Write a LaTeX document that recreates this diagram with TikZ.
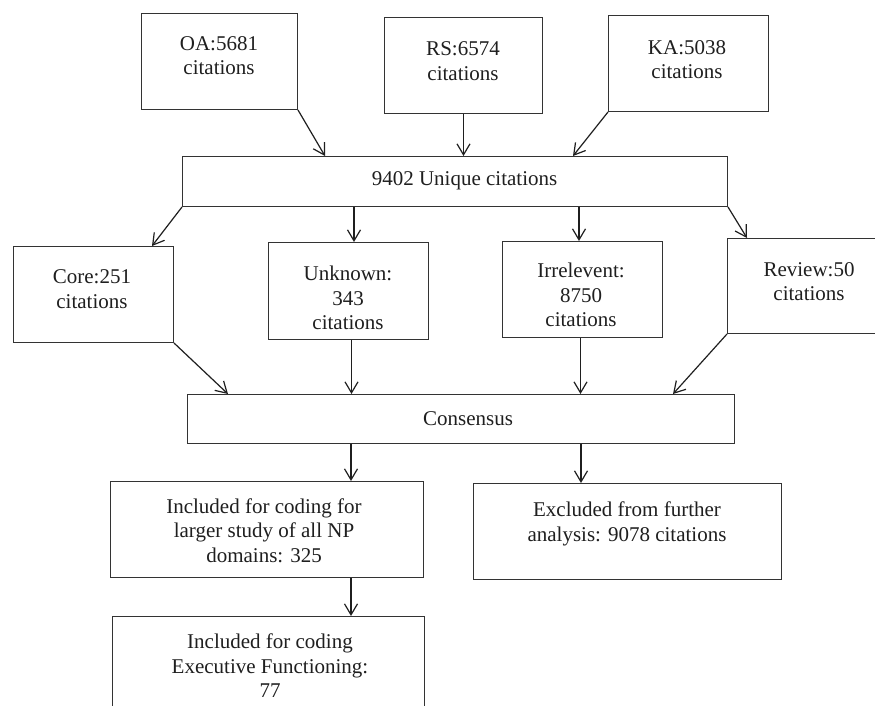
\documentclass[tikz,border=0pt]{standalone}
\usepackage{fontspec}
\setmainfont{Liberation Serif}
\usetikzlibrary{arrows.meta}
\begin{document}
\begin{tikzpicture}[x=1pt,y=-1pt,
  box/.style={draw=black!80, line width=1pt, inner sep=0pt, anchor=north west},
  txt/.style={align=center, inner sep=0pt, text=black!88, font=\fontsize{21}{24.5}\selectfont},
  arr/.style={draw=black!88, line width=1.2pt, -{Straight Barb[length=11pt,width=13pt]}}]
\useasboundingbox (0,0) rectangle (875,706);
\clip (0,0) rectangle (875,706);
\fill[white] (0,0) rectangle (875,706);
% top sources
\node[box, minimum width=156pt, minimum height=96pt] (oa) at (141,13) {};
\node[txt] (oat) at (219,55.5) {OA:5681\\citations};
\node[box, minimum width=158pt, minimum height=96pt] (rs) at (384,17) {};
\node[txt] (rst) at (463,61.3) {RS:6574\\citations};
\node[box, minimum width=160pt, minimum height=96pt] (ka) at (608,15) {};
\node[txt] (kat) at (687,59.5) {KA:5038\\citations};
% unique
\node[box, minimum width=545pt, minimum height=50pt] (unique) at (182,156) {};
\node[txt] (uniquet) at (464.5,181) {9402 Unique citations};
% categories
\node[box, minimum width=160pt, minimum height=96pt] (core) at (13,246) {};
\node[txt] (coret) at (92,289) {Core:251\\citations};
\node[box, minimum width=160pt, minimum height=97pt] (unknown) at (268,242) {};
\node[txt] (unknownt) at (348,298) {Unknown:\\343\\citations};
\node[box, minimum width=160pt, minimum height=96pt] (irr) at (502,241) {};
\node[txt] (irrt) at (581,295) {Irrelevent:\\8750\\citations};
\node[box, minimum width=164pt, minimum height=95pt] (review) at (727,238) {};
\node[txt] (reviewt) at (809,281.7) {Review:50\\citations};
% consensus
\node[box, minimum width=547pt, minimum height=49pt] (cons) at (187,394) {};
\node[txt] (const) at (468,418.5) {Consensus};
% outcomes
\node[box, minimum width=313pt, minimum height=96pt] (incl) at (110,481) {};
\node[txt] (inclt) at (264,530.5) {Included for coding for\\larger study of all NP\\domains: 325};
\node[box, minimum width=308pt, minimum height=96pt] (excl) at (473,483) {};
\node[txt] (exclt) at (627,524) {Excluded from further\\analysis: 9078 citations};
\node[box, minimum width=312pt, minimum height=120pt] (final) at (112,616) {};
\node[txt] (finalt) at (270,666) {Included for coding\\Executive Functioning:\\77};
% connectors
\draw[arr] (oa.south east) -- ([xshift=143pt]unique.north west);
\draw[arr] (rs.south) -- (rs.south |- unique.north);
\draw[arr] (ka.south west) -- ([xshift=391pt]unique.north west);
\draw[arr] (unique.south west) -- ([xshift=139pt]core.north west);
\draw[arr] ([xshift=172pt]unique.south west) -- ([xshift=172pt]unique.south west |- unknown.north);
\draw[arr] ([xshift=397pt]unique.south west) -- ([xshift=397pt]unique.south west |- irr.north);
\draw[arr] (unique.south east) -- ([xshift=20pt]review.north west);
\draw[arr] (core.south east) -- ([xshift=41pt]cons.north west);
\draw[arr] ([xshift=3pt]unknown.south) -- ([xshift=3pt]unknown.south |- cons.north);
\draw[arr] ([xshift=-2pt]irr.south) -- ([xshift=-2pt]irr.south |- cons.north);
\draw[arr] (review.south west) -- ([xshift=486pt]cons.north west);
\draw[arr] ([xshift=164pt]cons.south west) -- ([xshift=164pt]cons.south west |- incl.north);
\draw[arr] ([xshift=394pt]cons.south west) -- ([xshift=394pt]cons.south west |- excl.north);
\draw[arr] ([xshift=241pt]incl.south west) -- ([xshift=241pt]incl.south west |- final.north);
\end{tikzpicture}
\end{document}
